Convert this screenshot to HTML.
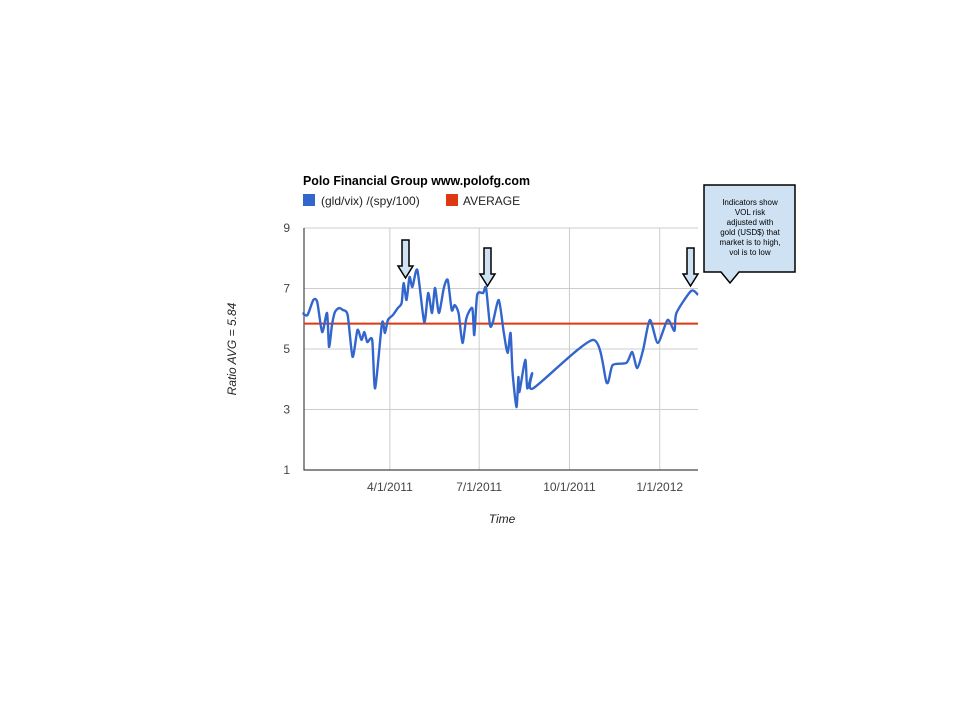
<!DOCTYPE html>
<html><head><meta charset="utf-8"><style>
body{margin:0;background:#fff;}
svg{display:block;font-family:"Liberation Sans",Arial,sans-serif;}
</style></head><body>
<svg id="chart" width="960" height="720" viewBox="0 0 960 720" xmlns="http://www.w3.org/2000/svg">
<text x="303" y="185" font-size="12.5" font-weight="bold" fill="#000" textLength="227" lengthAdjust="spacingAndGlyphs">Polo Financial Group www.polofg.com</text>
<g>
<rect x="303" y="194" width="12" height="12" fill="#3366cc"/>
<text x="321" y="205" font-size="12" fill="#222">(gld/vix) /(spy/100)</text>
<rect x="446" y="194" width="12" height="12" fill="#dc3912"/>
<text x="463" y="205" font-size="12" fill="#222">AVERAGE</text>
</g>
<g id="grid"></g>
<g id="axes"></g>
<g id="series"></g>
<text transform="translate(236,349) rotate(-90)" text-anchor="middle" font-size="12" font-style="italic" fill="#222">Ratio AVG = 5.84</text>
<text x="502" y="523" text-anchor="middle" font-size="12" font-style="italic" fill="#222">Time</text>
<g stroke="#000" stroke-width="1.5" fill="#cfe2f3">
<path d="M402,240 H409 V266 H413 L405.5,278 L398,266 H402 Z"/>
<path d="M484,248 H491 V274 H495 L487.5,286 L480,274 H484 Z"/>
<path d="M687,248 H694 V274 H698 L690.5,286 L683,274 H687 Z"/>
<path d="M704,185 H795 V272 H739 L730,283 L721,272 H704 Z" stroke-width="1.5"/>
</g>
<g font-size="8" fill="#000" text-anchor="middle">
<text x="750" y="205">Indicators show</text>
<text x="750" y="215">VOL risk</text>
<text x="750" y="225">adjusted with</text>
<text x="750" y="235">gold (USD$) that</text>
<text x="750" y="245">market is to high,</text>
<text x="750" y="255">vol is to low</text>
</g>
</svg>
<script>
const days=[1,6,12,16,21,26,28,31,34,38,42,47,52,57,61,64,67,72,75,82,85,88,93,98,102,104,107,110,113,118,125,129,133,136,140,145,149,153,156,160,164,168,174,176,179,185,188,192,195,201,206,210,213,215,219,221,222,228,230,235,236,297,311,317,331,337,342,348,355,363,373,380,382,397,404];
const ratio=[6.19,6.12,6.62,6.55,5.56,6.19,5.07,5.79,6.22,6.35,6.29,6.12,4.74,5.63,5.3,5.56,5.23,5.3,3.7,5.86,5.53,5.96,6.12,6.35,6.52,7.18,6.62,7.38,7.05,7.61,5.89,6.85,6.19,7.02,6.19,7.02,7.28,6.29,6.45,6.19,5.2,6.02,6.35,5.46,6.79,6.85,7.02,5.79,5.89,6.62,5.56,4.87,5.53,4.24,3.08,4.07,3.58,4.64,3.7,4.2,3.7,5.3,3.88,4.47,4.54,4.9,4.37,4.96,5.96,5.2,5.96,5.6,6.19,6.92,6.79];
const average=5.84;
const yTicks=[1,3,5,7,9];
const xTickDays=[90,181,273,365];
const xTickLabels=["4/1/2011","7/1/2011","10/1/2011","1/1/2012"];
const L=304,R=698,T=228,B=470;
const d0=2.5,d1=404;
const xs=d=>L+(d-d0)/(d1-d0)*(R-L);
const ys=v=>B-(v-1)/(9-1)*(B-T);
const NS="http://www.w3.org/2000/svg";
function mk(tag,attrs,parent){const e=document.createElementNS(NS,tag);for(const k in attrs)e.setAttribute(k,attrs[k]);parent.appendChild(e);return e;}
const grid=document.getElementById('grid'),axes=document.getElementById('axes'),series=document.getElementById('series');
yTicks.forEach(v=>{
 const g=mk('line',{x1:L,x2:R,y1:ys(v),y2:ys(v),stroke:'#ccc','stroke-width':1},grid);
 
 
 const t=mk('text',{x:L-14,y:ys(v)+4,'text-anchor':'end','font-size':12,fill:'#444'},axes);
 t.textContent=v;
 
 
});
xTickDays.forEach((d,i)=>{
 const g=mk('line',{x1:xs(d),x2:xs(d),y1:T,y2:B,stroke:'#ccc','stroke-width':1},grid);
 
 
 const t=mk('text',{x:xs(d),y:B+21,'text-anchor':'middle','font-size':12,fill:'#444'},axes);
 t.textContent=xTickLabels[i];
 
 
});
const ax=mk('path',{d:`M${L},${T} V${B} H${R}`,stroke:'#444','stroke-width':1.2,fill:'none'},axes);


const av=mk('line',{x1:L,x2:R,y1:ys(average),y2:ys(average),stroke:'#dc3912','stroke-width':2},series);


const P=days.map((d,i)=>[xs(d),ys(ratio[i])]);
let dstr=`M${P[0][0]},${P[0][1]}`;
for(let i=0;i<P.length-1;i++){
 const p0=P[Math.max(0,i-1)],p1=P[i],p2=P[i+1],p3=P[Math.min(P.length-1,i+2)];
 const k=0.12;
 dstr+=` C${p1[0]+(p2[0]-p0[0])*k},${p1[1]+(p2[1]-p0[1])*k} ${p2[0]-(p3[0]-p1[0])*k},${p2[1]-(p3[1]-p1[1])*k} ${p2[0]},${p2[1]}`;
}
const ln=mk('path',{d:dstr,stroke:'#3366cc','stroke-width':2.4,fill:'none','stroke-linejoin':'round'},series);


</script>
</body></html>
